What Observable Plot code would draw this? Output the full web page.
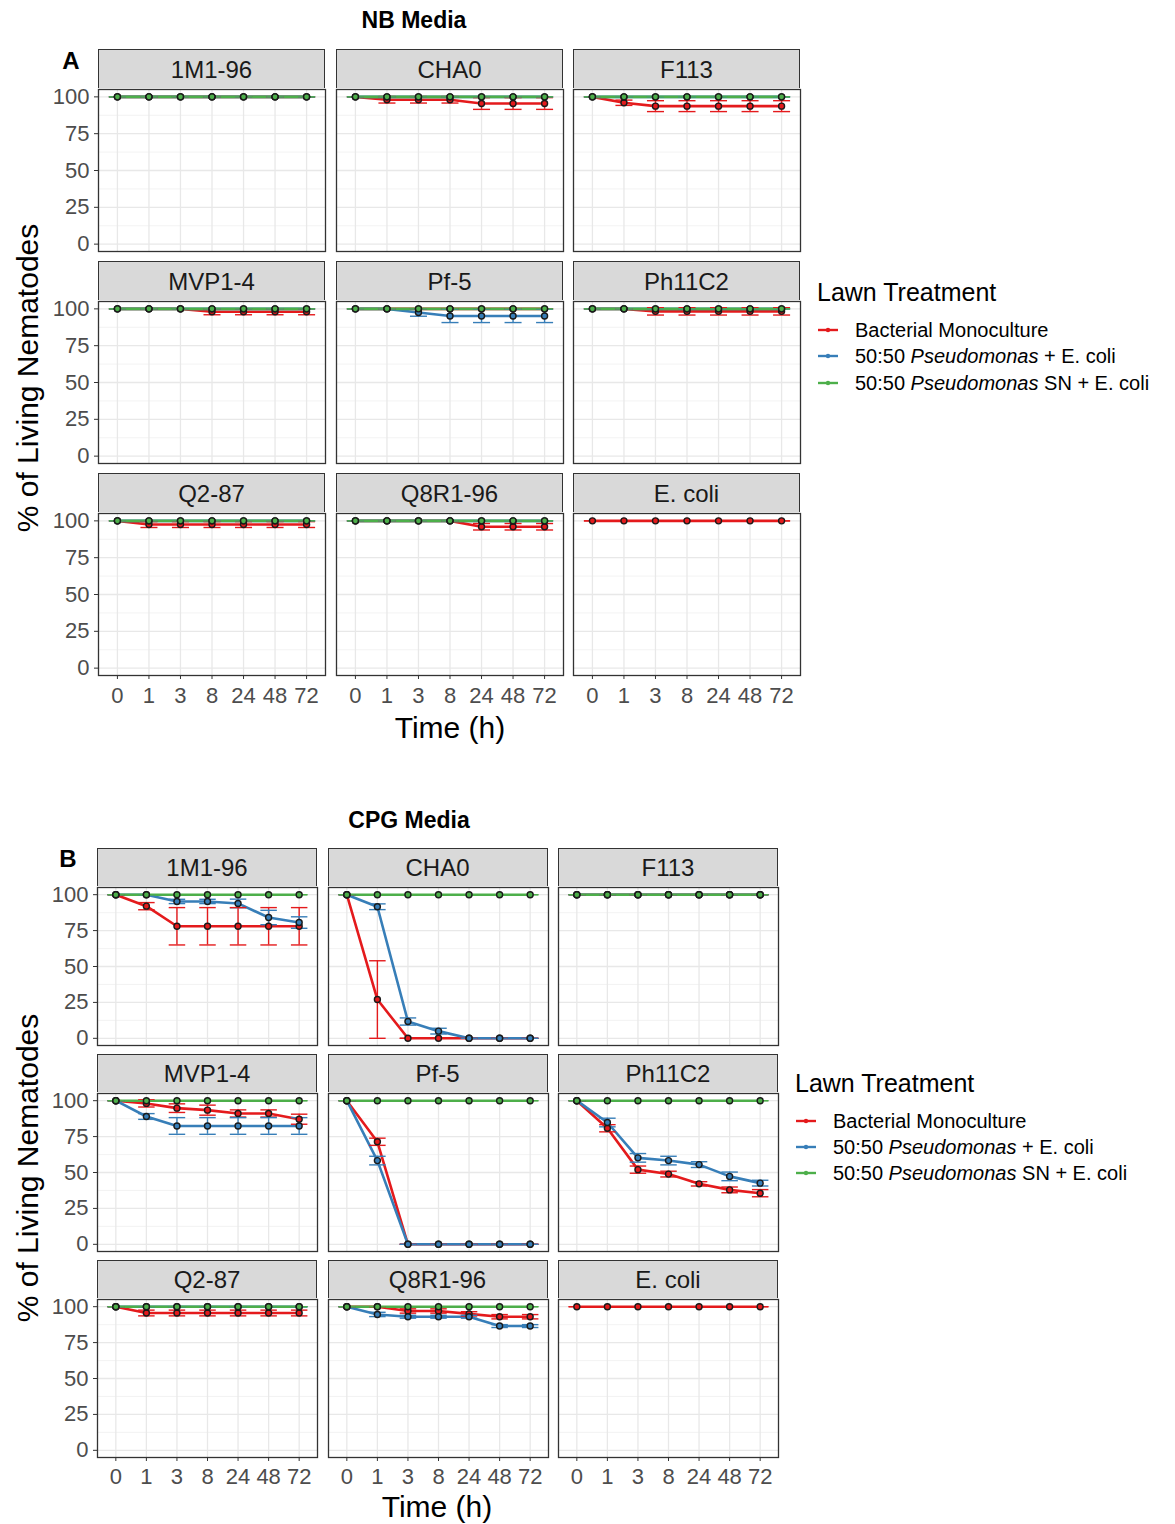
<!DOCTYPE html>
<html>
<head>
<meta charset="utf-8">
<script src="https://cdn.jsdelivr.net/npm/d3@7"></script>
<script src="https://cdn.jsdelivr.net/npm/@observablehq/plot@0.6"></script>
<style>
  html, body { margin: 0; padding: 0; background: #fff; }
  #root { position: relative; width: 1175px; height: 1524px; overflow: hidden; font-family: "Liberation Sans", Arial, sans-serif; }
  .abs { position: absolute; white-space: nowrap; line-height: 1; }
  .c { transform: translate(-50%, -50%); }
  .strip { position: absolute; box-sizing: border-box; background: #d9d9d9; border: 1.3px solid #333; color: #1a1a1a; font-size: 24px; display: flex; align-items: center; justify-content: center; }
  .svgwrap { position: absolute; }
</style>
</head>
<body>
<div id="root"></div>
<script>
// ---------------- data ----------------
const times = ["0", "1", "3", "8", "24", "48", "72"];
const strains = ["1M1-96", "CHA0", "F113", "MVP1-4", "Pf-5", "Ph11C2", "Q2-87", "Q8R1-96", "E. coli"];
const treatments = ["Bacterial Monoculture", "50:50 Pseudomonas + E. coli", "50:50 Pseudomonas SN + E. coli"];
const treatmentColors = ["#E41A1C", "#377EB8", "#4DAF4A"];
const yTicks = [0, 25, 50, 75, 100];
const yMinor = [12.5, 37.5, 62.5, 87.5];

// NB media (panel A): % living, one row per strain, columns = times
const nbMono = [
  [100, 100, 100, 100, 100, 100, 100],
  [100, 98, 98, 98, 95.5, 95.5, 95.5],
  [100, 96, 93.7, 93.7, 93.7, 93.7, 93.7],
  [100, 100, 100, 98, 98, 98, 98],
  [100, 100, 100, 100, 100, 100, 100],
  [100, 100, 98.3, 98.3, 98.3, 98.3, 98.3],
  [100, 97.5, 97.5, 97.5, 97.5, 97.5, 97.5],
  [100, 100, 100, 100, 96, 96, 96],
  [100, 100, 100, 100, 100, 100, 100]
];
const nbMonoErr = [
  [0, 0, 0, 0, 0, 0, 0],
  [0, 2.2, 2.2, 2.2, 4, 4, 4],
  [0, 1.8, 3.7, 3.7, 3.7, 3.7, 3.7],
  [0, 0, 0, 2, 2, 2, 2],
  [0, 0, 0, 0, 0, 0, 0],
  [0, 0, 2.5, 2.5, 2.5, 2.5, 2.5],
  [0, 2, 2, 2, 2, 2, 2],
  [0, 0, 0, 0, 2.2, 2.2, 2.2],
  [0, 0, 0, 0, 0, 0, 0]
];
const nbMix = [
  [100, 100, 100, 100, 100, 100, 100],
  [100, 100, 100, 100, 100, 100, 100],
  [100, 100, 100, 100, 100, 100, 100],
  [100, 100, 100, 100, 100, 100, 100],
  [100, 100, 97.5, 95.2, 95.2, 95.2, 95.2],
  [100, 100, 100, 100, 100, 100, 100],
  [100, 100, 100, 100, 100, 100, 100],
  [100, 100, 100, 100, 100, 100, 100],
  null
];
const nbMixErr = [
  [0, 0, 0, 0, 0, 0, 0],
  [0, 0, 0, 0, 0, 0, 0],
  [0, 0, 0, 0, 0, 0, 0],
  [0, 0, 0, 0, 0, 0, 0],
  [0, 0, 2.5, 4.5, 4.5, 4.5, 4.5],
  [0, 0, 0, 0, 0, 0, 0],
  [0, 0, 0, 0, 0, 0, 0],
  [0, 0, 0, 0, 0, 0, 0],
  null
];
const nbSN = [
  [100, 100, 100, 100, 100, 100, 100],
  [100, 100, 100, 100, 100, 100, 100],
  [100, 100, 100, 100, 100, 100, 100],
  [100, 100, 100, 100, 100, 100, 100],
  [100, 100, 100, 100, 100, 100, 100],
  [100, 100, 100, 100, 100, 100, 100],
  [100, 100, 100, 100, 100, 100, 100],
  [100, 100, 100, 100, 100, 100, 100],
  null
];
const nbSNErr = [
  [0, 0, 0, 0, 0, 0, 0],
  [0, 0, 0, 0, 0, 0, 0],
  [0, 0, 0, 0, 0, 0, 0],
  [0, 0, 0, 0, 0, 0, 0],
  [0, 0, 0, 0, 0, 0, 0],
  [0, 0, 0, 0, 0, 0, 0],
  [0, 0, 0, 0, 0, 0, 0],
  [0, 0, 0, 0, 0, 0, 0],
  null
];

// CPG media (panel B)
const cpgMono = [
  [100, 92, 78, 78, 78, 78, 78],
  [100, 27, 0, 0, 0, 0, 0],
  [100, 100, 100, 100, 100, 100, 100],
  [100, 98.1, 94.8, 93.4, 91.1, 91.1, 87.1],
  [100, 71.4, 0, 0, 0, 0, 0],
  [100, 80.8, 52, 48.9, 42.1, 37.9, 35.6],
  [100, 95.6, 95.6, 95.6, 95.6, 95.6, 95.6],
  [100, 100, 97, 97, 95, 93, 93],
  [100, 100, 100, 100, 100, 100, 100]
];
const cpgMonoErr = [
  [0, 2.5, 13, 13, 13, 13, 13],
  [0, 27, 0, 0, 0, 0, 0],
  [0, 0, 0, 0, 0, 0, 0],
  [0, 2.5, 3, 3.5, 2.5, 2.5, 3.5],
  [0, 2.5, 0, 0, 0, 0, 0],
  [0, 2.5, 2.5, 2, 1.5, 2, 2.5],
  [0, 2, 2, 2, 2, 2, 2],
  [0, 0, 1.5, 1.5, 1.5, 1.5, 1.5],
  [0, 0, 0, 0, 0, 0, 0]
];
const cpgMix = [
  [100, 100, 95.3, 95.3, 93.9, 84.1, 80.6],
  [100, 91.6, 11.7, 5, 0, 0, 0],
  [100, 100, 100, 100, 100, 100, 100],
  [100, 89, 82.4, 82.4, 82.4, 82.4, 82.4],
  [100, 58.3, 0, 0, 0, 0, 0],
  [100, 84.8, 60.2, 58.3, 55.5, 47.3, 42.6],
  [100, 100, 100, 100, 100, 100, 100],
  [100, 94.6, 93, 93, 93, 86.5, 86.5],
  null
];
const cpgMixErr = [
  [0, 0, 1.5, 1.5, 3, 5, 4],
  [0, 2, 2.5, 2, 0, 0, 0],
  [0, 0, 0, 0, 0, 0, 0],
  [0, 2, 5.8, 5.8, 5.8, 5.8, 5.8],
  [0, 3, 0, 0, 0, 0, 0],
  [0, 3, 3, 3, 2, 3, 2],
  [0, 0, 0, 0, 0, 0, 0],
  [0, 1.5, 1, 1, 1, 1, 1],
  null
];
const cpgSN = [
  [100, 100, 100, 100, 100, 100, 100],
  [100, 100, 100, 100, 100, 100, 100],
  [100, 100, 100, 100, 100, 100, 100],
  [100, 100, 100, 100, 100, 100, 100],
  [100, 100, 100, 100, 100, 100, 100],
  [100, 100, 100, 100, 100, 100, 100],
  [100, 100, 100, 100, 100, 100, 100],
  [100, 100, 100, 100, 100, 100, 100],
  null
];
const cpgSNErr = [
  [0, 0, 0, 0, 0, 0, 0],
  [0, 0, 0, 0, 0, 0, 0],
  [0, 0, 0, 0, 0, 0, 0],
  [0, 0, 0, 0, 0, 0, 0],
  [0, 0, 0, 0, 0, 0, 0],
  [0, 0, 0, 0, 0, 0, 0],
  [0, 0, 0, 0, 0, 0, 0],
  [0, 0, 0, 0, 0, 0, 0],
  null
];

// ---------------- layout ----------------
const FONT = '"Liberation Sans", Arial, sans-serif';
const root = document.getElementById("root");

function addText(txt, x, y, style, centered = true) {
  const d = document.createElement("div");
  d.className = "abs" + (centered ? " c" : "");
  d.style.left = x + "px";
  d.style.top = y + "px";
  Object.assign(d.style, style || {});
  d.innerHTML = txt;
  root.appendChild(d);
  return d;
}

const CAP = 0.27;

function panelRows(series, s) {
  const out = [];
  series.forEach((set, k) => {
    const vals = set.vals[s];
    if (!vals) return;
    const errs = set.errs[s];
    vals.forEach((v, i) => out.push({trt: treatments[k], i, v, lo: v - errs[i], hi: v + errs[i]}));
  });
  return out;
}

function makePanel(rows, W, H, showY, showX, xPad) {
  const ml = showY ? 60 : 1, mb = showX ? 48 : 1, mt = 1, mr = 1;
  const svg = Plot.plot({
    width: W + ml + mr,
    height: H + mt + mb,
    marginLeft: ml, marginRight: mr, marginTop: mt, marginBottom: mb,
    style: {fontFamily: FONT, fontSize: "22px", color: "#4d4d4d", background: "white", overflow: "visible"},
    x: {type: "linear", domain: [-0.6, 6.6], axis: null},
    y: {domain: [-5, 105], axis: null},
    color: {domain: treatments, range: treatmentColors},
    marks: [
      Plot.gridY(yMinor, {stroke: "#f0f0f0", strokeOpacity: 1, strokeWidth: 0.8}),
      Plot.gridY(yTicks, {stroke: "#e8e8e8", strokeOpacity: 1, strokeWidth: 1.3}),
      Plot.gridX(d3.range(times.length), {stroke: "#e8e8e8", strokeOpacity: 1, strokeWidth: 1.3}),
      showY ? Plot.axisY(yTicks, {tickSize: 4, tickPadding: 5, label: null, stroke: "#333", fill: "#4d4d4d", fontSize: 22}) : null,
      showX ? Plot.axisX(d3.range(times.length), {tickSize: 4, tickPadding: xPad, label: null, tickFormat: i => times[i], stroke: "#333", fill: "#4d4d4d", fontSize: 22}) : null,
      Plot.line(rows, {x: "i", y: "v", z: "trt", stroke: "trt", strokeWidth: 2.6}),
      Plot.ruleX(rows, {x: "i", y1: "lo", y2: "hi", stroke: "trt", strokeWidth: 1.4}),
      Plot.link(rows, {x1: d => d.i - CAP, x2: d => d.i + CAP, y1: "lo", y2: "lo", stroke: "trt", strokeWidth: 1.4}),
      Plot.link(rows, {x1: d => d.i - CAP, x2: d => d.i + CAP, y1: "hi", y2: "hi", stroke: "trt", strokeWidth: 1.4}),
      Plot.dot(rows, {x: "i", y: "v", fill: "trt", stroke: "#1a1a1a", strokeWidth: 1.4, r: 3}),
      Plot.frame({stroke: "#333", strokeWidth: 1.3})
    ]
  });
  return {svg, ml, mt};
}

function drawFigure(cfg) {
  const series = [
    {vals: cfg.mono, errs: cfg.monoErr},
    {vals: cfg.mix, errs: cfg.mixErr},
    {vals: cfg.sn, errs: cfg.snErr}
  ];
  strains.forEach((name, s) => {
    const r = Math.floor(s / 3), c = s % 3;
    const left = cfg.colLeft[c], stripTop = cfg.rowTop[r];
    const strip = document.createElement("div");
    strip.className = "strip";
    Object.assign(strip.style, {left: left + "px", top: stripTop + "px", width: cfg.W + "px", height: (cfg.stripH + 1) + "px"});
    strip.textContent = name;
    root.appendChild(strip);
    const {svg, ml, mt} = makePanel(panelRows(series, s), cfg.W, cfg.H, c === 0, r === 2, cfg.xPad);
    const wrap = document.createElement("div");
    wrap.className = "svgwrap";
    wrap.style.left = (left - ml) + "px";
    wrap.style.top = (stripTop + cfg.stripH - mt) + "px";
    wrap.appendChild(svg);
    root.appendChild(wrap);
  });
  // titles
  addText(cfg.title, cfg.titleX, cfg.titleY, {fontSize: "23px", fontWeight: "bold", color: "#000"});
  addText(cfg.letter, cfg.letterX, cfg.letterY, {fontSize: "24px", fontWeight: "bold", color: "#000"});
  addText("% of Living Nematodes", 28, cfg.yTitleY, {fontSize: "30px", color: "#000", transform: "translate(-50%,-50%) rotate(-90deg)"});
  addText("Time (h)", cfg.xTitleX, cfg.xTitleY, {fontSize: "30px", color: "#000"});
  // legend
  addText("Lawn Treatment", cfg.legX, cfg.legTitleY, {fontSize: "25px", color: "#000", transform: "translateY(-50%)"}, false);
  const labels = ["Bacterial Monoculture", "50:50 <i>Pseudomonas</i> + E. coli", "50:50 <i>Pseudomonas</i> SN + E. coli"];
  labels.forEach((lab, k) => {
    const y = cfg.legItemY[k];
    const key = document.createElementNS("http://www.w3.org/2000/svg", "svg");
    key.setAttribute("width", 22); key.setAttribute("height", 10);
    key.style.position = "absolute";
    key.style.left = (cfg.legX) + "px";
    key.style.top = (y - 5) + "px";
    key.innerHTML = `<line x1="1" x2="21" y1="5" y2="5" stroke="${treatmentColors[k]}" stroke-width="2.4"/><circle cx="11" cy="5" r="2.2" fill="${treatmentColors[k]}"/>`;
    root.appendChild(key);
    addText(lab, cfg.legX + 38, y, {fontSize: "20px", color: "#000", transform: "translateY(-50%)"}, false);
  });
}

drawFigure({
  mono: nbMono, monoErr: nbMonoErr, mix: nbMix, mixErr: nbMixErr, sn: nbSN, snErr: nbSNErr,
  colLeft: [98, 336, 573], rowTop: [49, 261, 473], W: 227, H: 162, stripH: 40, xPad: 8,
  title: "NB Media", titleX: 414, titleY: 20, letter: "A", letterX: 71, letterY: 61,
  yTitleY: 378, xTitleX: 450, xTitleY: 728,
  legX: 817, legTitleY: 292, legItemY: [330, 356, 383]
});

drawFigure({
  mono: cpgMono, monoErr: cpgMonoErr, mix: cpgMix, mixErr: cpgMixErr, sn: cpgSN, snErr: cpgSNErr,
  colLeft: [97, 327.5, 558], rowTop: [848, 1054, 1260], W: 220, H: 158, stripH: 39, xPad: 7,
  title: "CPG Media", titleX: 409, titleY: 820, letter: "B", letterX: 68, letterY: 859,
  yTitleY: 1168, xTitleX: 437, xTitleY: 1507,
  legX: 795, legTitleY: 1083, legItemY: [1121, 1147, 1173]
});
</script>
</body>
</html>
